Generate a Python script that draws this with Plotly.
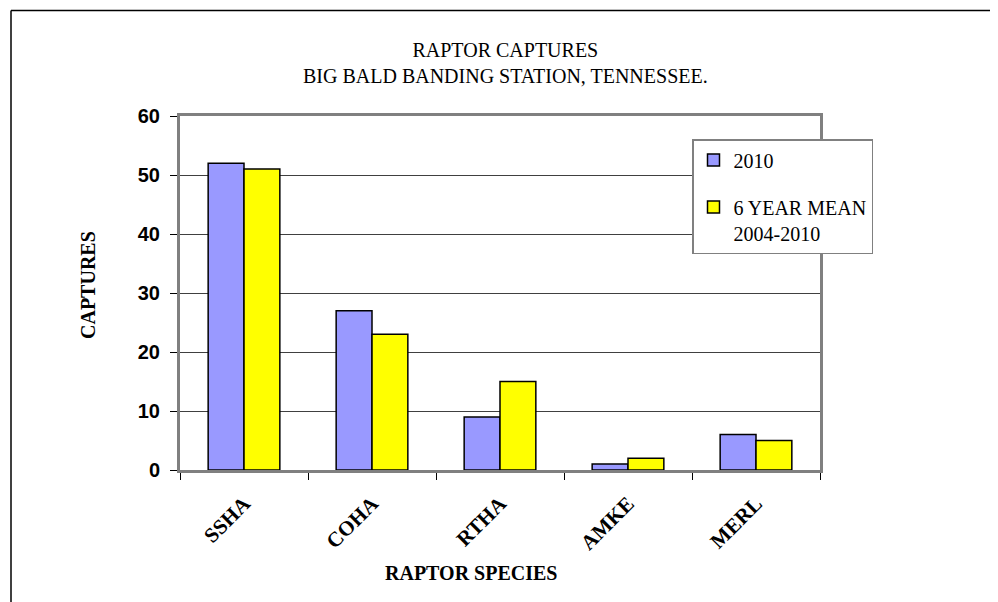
import plotly.graph_objects as go

species = ["SSHA", "COHA", "RTHA", "AMKE", "MERL"]
captures_2010 = [52, 27, 9, 1, 6]
mean_2004_2010 = [51, 23, 15, 2, 5]
series_names = ["2010", "6 YEAR MEAN<br>2004-2010"]
y_ticks = [0, 10, 20, 30, 40, 50, 60]

# page has an 8px body margin; shift everything accordingly
OFF = 8
W, H = 990, 594
L, R, T, B = 180 - OFF, 178, 116 - OFF, 132
pw, ph = W - L - R, H - T - B

def px(x):
    return (x - OFF - L) / pw

def py(y):
    return (H - B - (y - OFF)) / ph

serif = "Liberation Serif"

fig = go.Figure()
fig.add_trace(go.Bar(x=species, y=captures_2010, name=series_names[0], legendgroup="a",
                     marker=dict(color="#9999FF", line=dict(color="black", width=1.5))))
fig.add_trace(go.Bar(x=species, y=mean_2004_2010, name=series_names[1], legendgroup="b",
                     marker=dict(color="#FFFF00", line=dict(color="black", width=1.5))))

fig.update_layout(
    width=W, height=H,
    margin=dict(l=L, r=R, t=T, b=B),
    paper_bgcolor="white", plot_bgcolor="white",
    barmode="group", bargap=0.44, bargroupgap=0,
    showlegend=True,
    legend=dict(x=px(692), y=py(139), xanchor="left", yanchor="top",
                bgcolor="white", bordercolor="#808080", borderwidth=1.5,
                font=dict(family=serif, size=20, color="black"),
                traceorder="grouped", tracegroupgap=18, valign="top",
                itemwidth=30),
    xaxis=dict(
        showline=True, linecolor="#808080", linewidth=3, mirror=True,
        ticks="outside", tickson="boundaries", ticklen=7, tickcolor="black", tickwidth=1,
        tickangle=-45, ticklabelstandoff=10,
        tickfont=dict(family=serif, size=21, color="black", weight="bold"),
        showgrid=False,
    ),
    yaxis=dict(
        range=[0, 60], tickvals=y_ticks,
        showline=True, linecolor="#808080", linewidth=3, mirror=True,
        ticks="outside", ticklen=7, tickcolor="black", tickwidth=1,
        ticklabelstandoff=6,
        tickfont=dict(family="Liberation Sans", size=20, color="black", weight="bold"),
        showgrid=True, gridcolor="#404040", gridwidth=1,
        zeroline=False,
    ),
    annotations=[
        dict(text="RAPTOR CAPTURES<br>BIG BALD BANDING STATION, TENNESSEE.",
             xref="paper", yref="paper", x=px(505), y=py(63), xanchor="center", yanchor="middle",
             showarrow=False, font=dict(family=serif, size=20, color="black")),
        dict(text="<b>CAPTURES</b>", xref="paper", yref="paper", x=px(88), y=py(285),
             xanchor="center", yanchor="middle", textangle=-90, showarrow=False,
             font=dict(family=serif, size=20, color="black")),
        dict(text="<b>RAPTOR SPECIES</b>", xref="paper", yref="paper", x=px(471), y=py(573),
             xanchor="center", yanchor="middle", showarrow=False,
             font=dict(family=serif, size=20, color="black")),
    ],
    shapes=[
        dict(type="line", xref="paper", yref="paper", x0=px(11), x1=px(1010), y0=py(10.5), y1=py(10.5),
             line=dict(color="black", width=1.5)),
        dict(type="line", xref="paper", yref="paper", x0=px(11), x1=px(11), y0=py(10.5), y1=py(620),
             line=dict(color="black", width=1.5)),
    ],
)

fig.write_html("out.html")
